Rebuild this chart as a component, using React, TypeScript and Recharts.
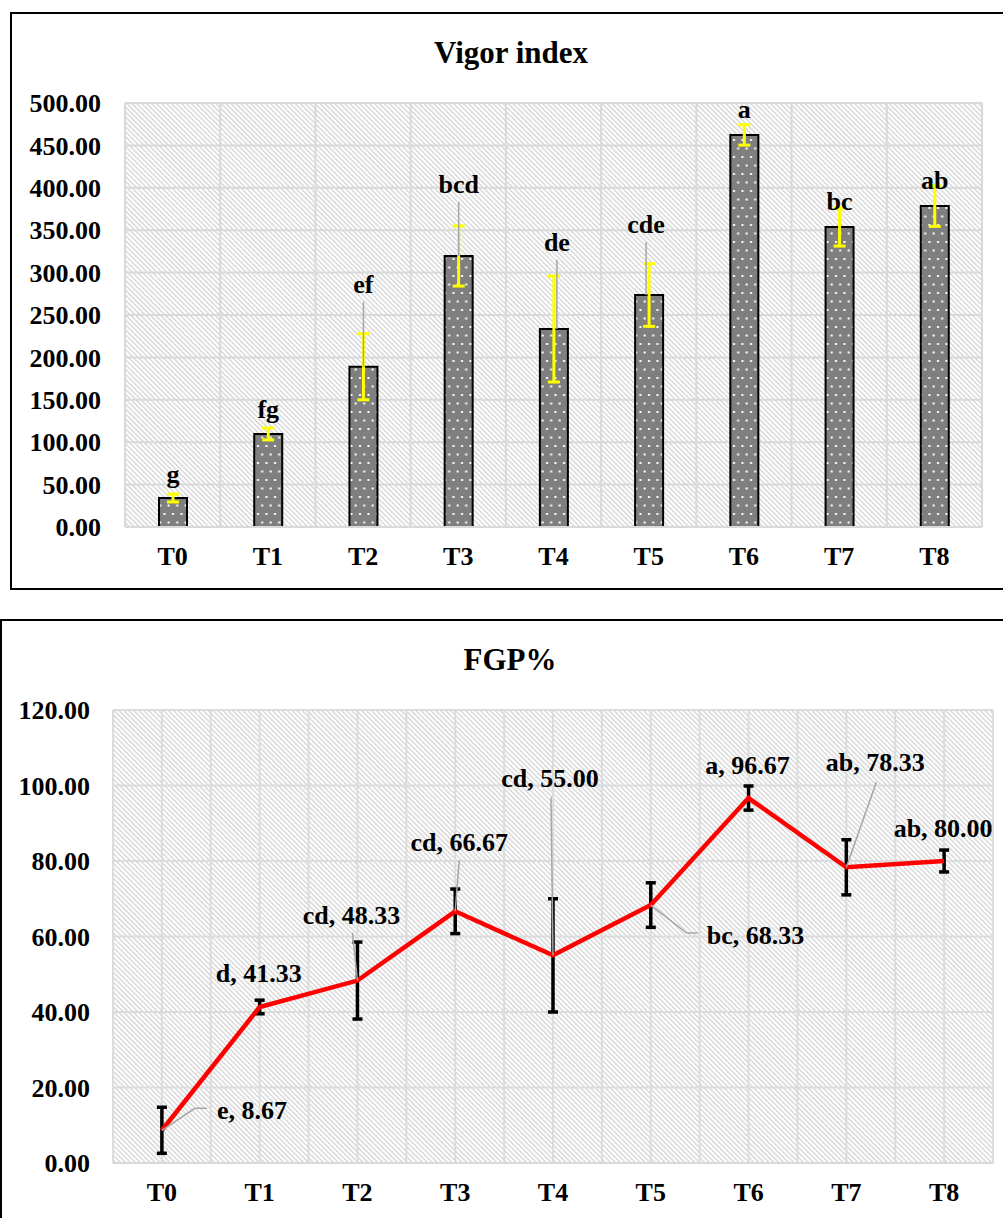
import React from "react";
import {
  ComposedChart,
  Bar,
  Line,
  XAxis,
  YAxis,
  CartesianGrid,
  ErrorBar,
  LabelList,
} from "recharts";

const treatments = ["T0", "T1", "T2", "T3", "T4", "T5", "T6", "T7", "T8"];

const vigorMean = [34.2, 109.7, 189.0, 319.6, 233.5, 273.6, 462.3, 353.8, 378.5];
const vigorErr = [4.7, 7.0, 39.0, 35.5, 62.5, 37.0, 12.0, 22.5, 24.0];
const vigorLetters = ["g", "fg", "ef", "bcd", "de", "cde", "a", "bc", "ab"];
const vigorTicks = [0, 50, 100, 150, 200, 250, 300, 350, 400, 450, 500];

const fgpMean = [8.67, 41.33, 48.33, 66.67, 55.0, 68.33, 96.67, 78.33, 80.0];
const fgpErr = [6.1, 1.8, 10.2, 5.9, 15.0, 5.9, 3.2, 7.3, 2.9];
const fgpLetters = ["e", "d", "cd", "cd", "cd", "bc", "a", "ab", "ab"];
const fgpTicks = [0, 20, 40, 60, 80, 100, 120];

const vigorData = treatments.map((t, i) => ({
  name: t,
  mean: vigorMean[i],
  err: vigorErr[i],
  letter: vigorLetters[i],
}));

const fgpData = treatments.map((t, i) => ({
  name: t,
  mean: fgpMean[i],
  err: fgpErr[i],
  label: `${fgpLetters[i]}, ${fgpMean[i].toFixed(2)}`,
}));

const FONT = "Liberation Serif, DejaVu Serif, serif";
const tickStyle = { fontSize: 26, fontWeight: 700, fill: "#000", fontFamily: FONT };

// label placement relative to the bar top / line point
const vigorLabelPos = [
  { dx: 0, dy: -23 },
  { dx: 0, dy: -24 },
  { dx: 0, dy: -82, leader: true },
  { dx: 0, dy: -71, leader: true },
  { dx: 3, dy: -86, leader: true },
  { dx: -3, dy: -70, leader: true },
  { dx: 0, dy: -25 },
  { dx: 0, dy: -25 },
  { dx: 0, dy: -26 },
];

type Pos = { dx: number; dy: number; anchor?: "start" | "middle"; leader?: number[][] };
const fgpLabelPos: Pos[] = [
  { dx: 55, dy: -20, anchor: "start", leader: [[0, 0], [33, -22], [45, -22]] },
  { dx: -1, dy: -33 },
  { dx: -6, dy: -65, leader: [[-5, -48], [0, 0]] },
  { dx: 4, dy: -69, leader: [[4, -51], [0, 0]] },
  { dx: -3, dy: -177, leader: [[-2, -158], [0, 0]] },
  { dx: 56, dy: 30, anchor: "start", leader: [[0, 0], [36, 28], [47, 28]] },
  { dx: -1, dy: -33 },
  { dx: 29, dy: -105, leader: [[30, -85], [0, 0]] },
  { dx: -1, dy: -33 },
];

function box(props: any) {
  const vb = props.viewBox || {};
  const x = props.x ?? vb.x ?? 0;
  const y = props.y ?? vb.y ?? 0;
  const width = props.width ?? vb.width ?? 0;
  return { x: Number(x), y: Number(y), width: Number(width) };
}

function VigorLabel(props: any) {
  const { index } = props;
  const { x, y, width } = box(props);
  const p = vigorLabelPos[index];
  const cx = x + width / 2 + p.dx;
  const ty = y + p.dy;
  return (
    <g>
      {p.leader && (
        <line x1={cx} y1={ty + 17} x2={cx} y2={y} stroke="#a6a6a6" strokeWidth={1.5} />
      )}
      <text
        x={cx}
        y={ty}
        textAnchor="middle"
        dominantBaseline="central"
        style={{ fontSize: 26, fontWeight: 700, fontFamily: FONT }}
        fill="#000"
      >
        {vigorLetters[index]}
      </text>
    </g>
  );
}

function FgpLabel(props: any) {
  const { index } = props;
  const { x, y } = box(props);
  const p = fgpLabelPos[index];
  return (
    <g>
      {p.leader && (
        <polyline
          points={p.leader.map(([a, b]) => `${x + a},${y + b}`).join(" ")}
          fill="none"
          stroke="#a6a6a6"
          strokeWidth={1.5}
        />
      )}
      <text
        x={x + p.dx}
        y={y + p.dy}
        textAnchor={p.anchor || "middle"}
        dominantBaseline="central"
        style={{ fontSize: 26, fontWeight: 700, fontFamily: FONT }}
        fill="#000"
      >
        {fgpData[index].label}
      </text>
    </g>
  );
}

const boundaries = (n: number) => ({ offset }: any) =>
  Array.from({ length: n + 1 }, (_, i) => offset.left + (i * offset.width) / n);

function Hatch({ id }: { id: string }) {
  return (
    <pattern id={id} width={3.5} height={3.5} patternUnits="userSpaceOnUse" patternTransform="rotate(45)">
      <rect width={3.5} height={3.5} fill="#ffffff" />
      <line x1={0} y1={1} x2={3.5} y2={1} stroke="#d2d2d2" strokeWidth={1.3} />
    </pattern>
  );
}

export default function App() {
  return (
    <div
      style={{
        position: "absolute",
        left: 0,
        top: 0,
        width: 1003,
        height: 1218,
        overflow: "hidden",
        background: "#fff",
        fontFamily: FONT,
      }}
    >
      {/* top frame */}
      <div
        style={{
          position: "absolute",
          left: 10,
          top: 12,
          width: 1010,
          height: 574,
          border: "2px solid #000",
        }}
      />
      <div
        style={{
          position: "absolute",
          left: 311,
          top: 35,
          width: 400,
          lineHeight: "36px",
          textAlign: "center",
          fontSize: 31,
          fontWeight: 700,
        }}
      >
        Vigor index
      </div>
      <div style={{ position: "absolute", left: 0, top: 0 }}>
        <ComposedChart
          width={1003}
          height={600}
          data={vigorData}
          margin={{ top: 103, right: 21, bottom: 23, left: 10 }}
        >
          <defs>
            <Hatch id="hatchTop" />
            <pattern id="dots" width={8.5} height={17} patternUnits="userSpaceOnUse">
              <rect width={8.5} height={17} fill="#7f7f7f" />
              <rect x={2} y={3} width={2} height={2} fill="#ffffff" />
              <rect x={6.2} y={11.5} width={2} height={2} fill="#ffffff" />
            </pattern>
          </defs>
          <CartesianGrid
            fill="url(#hatchTop)"
            fillOpacity={1}
            stroke="#d9d9d9"
            strokeWidth={2}
            verticalCoordinatesGenerator={boundaries(9)}
          />
          <XAxis
            dataKey="name"
            scale="band"
            interval={0}
            tick={tickStyle}
            tickLine={false}
            tickSize={0}
            tickMargin={20}
            height={50}
            axisLine={{ stroke: "#d9d9d9", strokeWidth: 2 }}
          />
          <YAxis
            domain={[0, 500]}
            ticks={vigorTicks}
            interval={0}
            width={115}
            tick={tickStyle}
            tickLine={false}
            tickSize={0}
            tickMargin={24}
            axisLine={false}
            tickFormatter={(v: number) => v.toFixed(2)}
          />
          <Bar
            dataKey="mean"
            barSize={28}
            fill="url(#dots)"
            stroke="#000"
            strokeWidth={2}
            isAnimationActive={false}
          >
            <ErrorBar dataKey="err" stroke="#ffff00" strokeWidth={3} width={6} direction="y" />
            <LabelList dataKey="letter" content={VigorLabel} />
          </Bar>
        </ComposedChart>
      </div>

      {/* bottom frame */}
      <div
        style={{
          position: "absolute",
          left: 0,
          top: 619,
          width: 1020,
          height: 700,
          border: "2px solid #000",
        }}
      />
      <div
        style={{
          position: "absolute",
          left: 310,
          top: 642,
          width: 400,
          lineHeight: "36px",
          textAlign: "center",
          fontSize: 31,
          fontWeight: 700,
        }}
      >
        FGP%
      </div>
      <div style={{ position: "absolute", left: 0, top: 610 }}>
        <ComposedChart
          width={1003}
          height={608}
          data={fgpData}
          margin={{ top: 100, right: 10, bottom: 10, left: 10 }}
        >
          <defs>
            <Hatch id="hatchBottom" />
          </defs>
          <CartesianGrid
            fill="url(#hatchBottom)"
            fillOpacity={1}
            stroke="#dcdcdc"
            strokeWidth={2}
            verticalCoordinatesGenerator={boundaries(18)}
          />
          <XAxis
            dataKey="name"
            scale="band"
            interval={0}
            tick={tickStyle}
            tickLine={false}
            tickSize={0}
            tickMargin={20}
            height={45}
            axisLine={{ stroke: "#d9d9d9", strokeWidth: 2 }}
          />
          <YAxis
            domain={[0, 120]}
            ticks={fgpTicks}
            interval={0}
            width={103}
            tick={tickStyle}
            tickLine={false}
            tickSize={0}
            tickMargin={23}
            axisLine={false}
            tickFormatter={(v: number) => v.toFixed(2)}
          />
          <Line
            dataKey="mean"
            stroke="#ff0000"
            strokeWidth={4.5}
            dot={false}
            activeDot={false}
            isAnimationActive={false}
          >
            <ErrorBar dataKey="err" stroke="#000" strokeWidth={3.5} width={5} direction="y" />
            <LabelList dataKey="label" content={FgpLabel} />
          </Line>
        </ComposedChart>
      </div>
    </div>
  );
}
